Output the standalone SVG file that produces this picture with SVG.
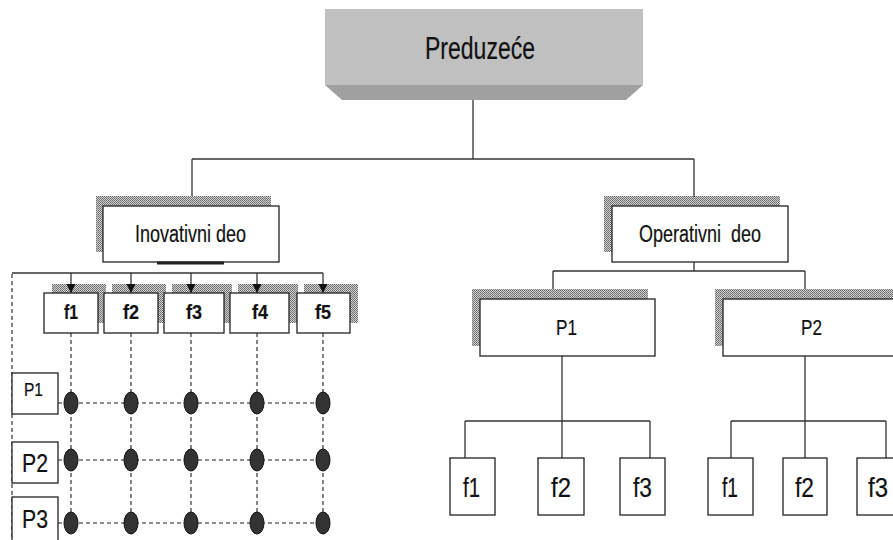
<svg xmlns="http://www.w3.org/2000/svg" width="893" height="540" viewBox="0 0 893 540">
<defs>
<pattern id="dots" width="2" height="2" patternUnits="userSpaceOnUse">
<rect width="2" height="2" fill="#d0d0d0"/>
<rect width="1" height="1" fill="#6a6a6a"/>
<rect x="1" y="1" width="1" height="1" fill="#7a7a7a"/>
</pattern>
<marker id="arr" markerWidth="10" markerHeight="10" refX="9" refY="5" orient="auto" markerUnits="userSpaceOnUse">
<path d="M0,0.5 L9,5 L0,9.5 Z" fill="#111"/>
</marker>
</defs>
<style>
.ln{stroke:#333;stroke-width:1.3;fill:none}
.dl{stroke:#222;stroke-width:1.1;stroke-dasharray:4 3;fill:none}
.sh{fill:url(#dots)}
.bx{fill:#fff;stroke:#222;stroke-width:1.3}
.t{font-family:"Liberation Sans",Arial,sans-serif;fill:#111;text-anchor:middle;stroke:#111;stroke-width:0.2}
.b{font-weight:bold}
.dot{fill:#333;stroke:#111;stroke-width:1}
</style>
<g id="preduzece">
<rect x="325" y="9" width="318" height="76" fill="#c0c0c0"/>
<polygon points="325,85 643,85 626,100 342,100" fill="#a0a0a0"/>
<text class="t" x="480" y="59" font-size="31" textLength="110" lengthAdjust="spacingAndGlyphs">Preduzeće</text>
</g>
<g id="inovativni">
<rect class="sh" x="96" y="196" width="175" height="56"/>
<rect class="bx" x="103" y="206" width="176" height="56"/>
<text class="t" x="190.5" y="242" font-size="23" textLength="111" lengthAdjust="spacingAndGlyphs">Inovativni deo</text>
</g>
<g id="operativni">
<rect class="sh" x="604" y="196" width="176" height="56"/>
<rect class="bx" x="612" y="206" width="176" height="56"/>
<text class="t" x="700" y="242" font-size="23" textLength="122" lengthAdjust="spacingAndGlyphs" xml:space="preserve">Operativni  deo</text>
</g>
<g id="f1a">
<rect class="sh" x="52" y="284" width="54" height="39"/>
<rect class="bx" x="44" y="293" width="54" height="40"/>
<text class="t b" x="71" y="319" font-size="21" textLength="14" lengthAdjust="spacingAndGlyphs">f1</text>
</g>
<g id="f2a">
<rect class="sh" x="112" y="284" width="54" height="39"/>
<rect class="bx" x="104" y="293" width="54" height="40"/>
<text class="t b" x="131" y="319" font-size="21" textLength="16" lengthAdjust="spacingAndGlyphs">f2</text>
</g>
<g id="f3a">
<rect class="sh" x="172" y="284" width="60" height="39"/>
<rect class="bx" x="164" y="293" width="60" height="40"/>
<text class="t b" x="194" y="319" font-size="21" textLength="16" lengthAdjust="spacingAndGlyphs">f3</text>
</g>
<g id="f4a">
<rect class="sh" x="238" y="284" width="60" height="39"/>
<rect class="bx" x="230" y="293" width="59" height="40"/>
<text class="t b" x="260" y="319" font-size="21" textLength="16" lengthAdjust="spacingAndGlyphs">f4</text>
</g>
<g id="f5a">
<rect class="sh" x="304" y="284" width="54" height="39"/>
<rect class="bx" x="297" y="293" width="53" height="40"/>
<text class="t b" x="323" y="319" font-size="21" textLength="16" lengthAdjust="spacingAndGlyphs">f5</text>
</g>
<g id="op-p1">
<rect class="sh" x="472" y="289" width="176" height="57"/>
<rect class="bx" x="480" y="299" width="175" height="57"/>
<text class="t" x="566.5" y="335" font-size="22" textLength="21" lengthAdjust="spacingAndGlyphs">P1</text>
</g>
<g id="op-p2">
<rect class="sh" x="715" y="289" width="180" height="57"/>
<rect class="bx" x="723" y="299" width="180" height="57"/>
<text class="t" x="811.5" y="335" font-size="22" textLength="21" lengthAdjust="spacingAndGlyphs">P2</text>
</g>
<g id="connectors">
<path class="ln" d="M473,100 V159 M192,159 H694 M192,159 V196 M694,159 V197"/>
<path class="ln" d="M12,273 H323"/>
<line x1="157" y1="263" x2="224" y2="263" stroke="#222" stroke-width="3"/>
<line class="ln" x1="71" y1="273" x2="71" y2="293" marker-end="url(#arr)"/>
<line class="ln" x1="131" y1="273" x2="131" y2="293" marker-end="url(#arr)"/>
<line class="ln" x1="191" y1="273" x2="191" y2="293" marker-end="url(#arr)"/>
<line class="ln" x1="257" y1="273" x2="257" y2="293" marker-end="url(#arr)"/>
<line class="ln" x1="323" y1="273" x2="323" y2="293" marker-end="url(#arr)"/>
<path class="dl" d="M12,274 V540"/>
<path class="dl" d="M71,333 V523 M131,333 V523 M191,333 V523 M257,333 V523 M323,333 V523"/>
<path class="dl" d="M58,403 H323 M58,460 H323 M58,523 H323"/>
<path class="ln" d="M694,262 V271 M553,271 H805 M553,271 V289 M805,271 V289"/>
<path class="ln" d="M562,356 V458 M465,421 H650 M465,421 V458 M650,421 V458"/>
<path class="ln" d="M805,356 V458 M731,421 H886 M731,421 V458 M886,421 V458"/>
</g>
<g id="grid-p1">
<rect class="bx" x="12" y="373" width="46" height="41"/>
<text class="t" x="33.5" y="396" font-size="19" textLength="19" lengthAdjust="spacingAndGlyphs">P1</text>
</g>
<g id="grid-p2">
<rect class="bx" x="12" y="442" width="46" height="41"/>
<text class="t" x="35" y="472" font-size="26" textLength="26" lengthAdjust="spacingAndGlyphs">P2</text>
</g>
<g id="grid-p3">
<rect class="bx" x="12" y="497" width="46" height="44"/>
<text class="t" x="35" y="528" font-size="25" textLength="26" lengthAdjust="spacingAndGlyphs">P3</text>
</g>
<g id="grid-dots">
<ellipse class="dot" cx="71" cy="403" rx="7" ry="11"/>
<ellipse class="dot" cx="131" cy="403" rx="7" ry="11"/>
<ellipse class="dot" cx="191" cy="403" rx="7" ry="11"/>
<ellipse class="dot" cx="257" cy="403" rx="7" ry="11"/>
<ellipse class="dot" cx="323" cy="403" rx="7" ry="11"/>
<ellipse class="dot" cx="71" cy="460" rx="7" ry="11"/>
<ellipse class="dot" cx="131" cy="460" rx="7" ry="11"/>
<ellipse class="dot" cx="191" cy="460" rx="7" ry="11"/>
<ellipse class="dot" cx="257" cy="460" rx="7" ry="11"/>
<ellipse class="dot" cx="323" cy="460" rx="7" ry="11"/>
<ellipse class="dot" cx="71" cy="523" rx="7" ry="11"/>
<ellipse class="dot" cx="131" cy="523" rx="7" ry="11"/>
<ellipse class="dot" cx="191" cy="523" rx="7" ry="11"/>
<ellipse class="dot" cx="257" cy="523" rx="7" ry="11"/>
<ellipse class="dot" cx="323" cy="523" rx="7" ry="11"/>
</g>
<g id="op-p1-f1">
<rect class="bx" x="450" y="458" width="45" height="57"/>
<text class="t" x="471.5" y="497" font-size="27" textLength="17" lengthAdjust="spacingAndGlyphs">f1</text>
</g>
<g id="op-p1-f2">
<rect class="bx" x="538" y="458" width="46" height="57"/>
<text class="t" x="561" y="497" font-size="27" textLength="20" lengthAdjust="spacingAndGlyphs">f2</text>
</g>
<g id="op-p1-f3">
<rect class="bx" x="620" y="458" width="45" height="57"/>
<text class="t" x="642.5" y="497" font-size="27" textLength="19" lengthAdjust="spacingAndGlyphs">f3</text>
</g>
<g id="op-p2-f1">
<rect class="bx" x="708" y="458" width="45" height="57"/>
<text class="t" x="730" y="497" font-size="27" textLength="16" lengthAdjust="spacingAndGlyphs">f1</text>
</g>
<g id="op-p2-f2">
<rect class="bx" x="783" y="458" width="44" height="57"/>
<text class="t" x="804.5" y="497" font-size="27" textLength="19" lengthAdjust="spacingAndGlyphs">f2</text>
</g>
<g id="op-p2-f3">
<rect class="bx" x="857" y="458" width="45" height="57"/>
<text class="t" x="878" y="497" font-size="27" textLength="20" lengthAdjust="spacingAndGlyphs">f3</text>
</g>
</svg>
